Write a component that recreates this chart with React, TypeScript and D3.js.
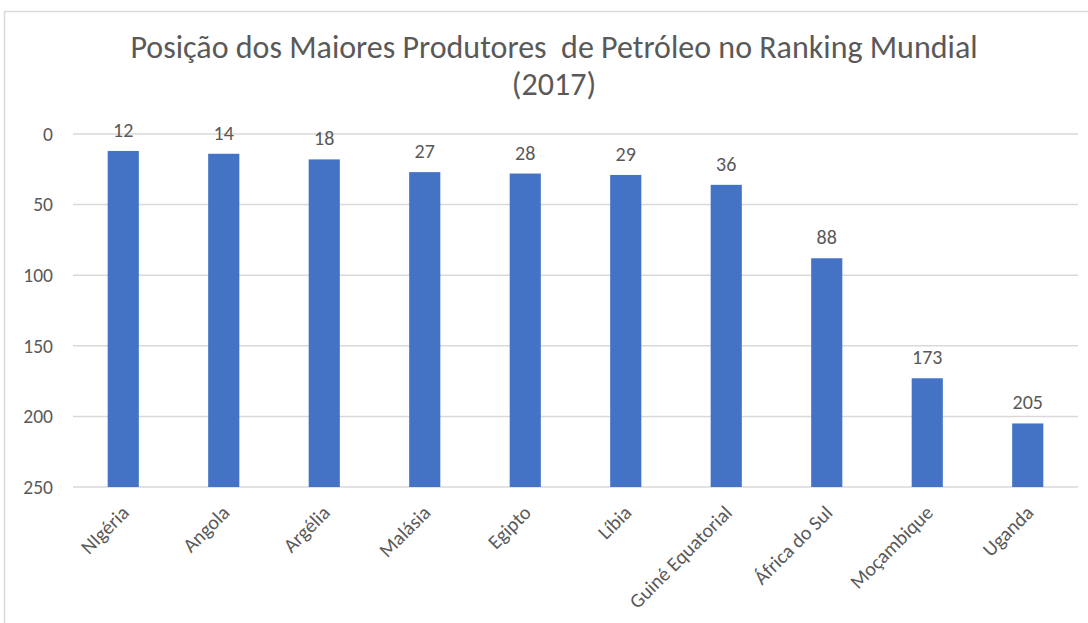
import { useEffect, useRef } from 'react';
import * as d3 from 'd3';

const countries = ['NIgéria', 'Angola', 'Argélia', 'Malásia', 'Egipto', 'Líbia', 'Guiné Equatorial', 'África do Sul', 'Moçambique', 'Uganda'];
const ranking = [12, 14, 18, 27, 28, 29, 36, 88, 173, 205];
const yTicks = [0, 50, 100, 150, 200, 250];
const titleLines = ['Posição dos Maiores Produtores  de Petróleo no Ranking Mundial', '(2017)'];

export default function App() {
    const svgRef = useRef<SVGSVGElement>(null);

    useEffect(() => {
        const width = 1088;
        const height = 623;
        const margin = { top: 134, right: 10, bottom: 136, left: 73 };
        const innerWidth = 1078 - margin.left;
        const innerHeight = 487 - margin.top;
        const font = 'Calibri, Carlito, "Open Sans", sans-serif';
        const textColor = '#595959';

        const svg = d3.select(svgRef.current);
        svg.selectAll('*').remove();
        svg.attr('width', width).attr('height', height);

        // chart frame
        svg.append('rect')
            .attr('x', 4.5)
            .attr('y', 11.5)
            .attr('width', width + 10)
            .attr('height', height)
            .attr('fill', '#fff')
            .attr('stroke', '#d9d9d9')
            .attr('stroke-width', 1.5);

        // title
        svg.append('text')
            .attr('text-anchor', 'middle')
            .style('font-family', font)
            .style('font-size', '32px')
            .style('fill', textColor)
            .selectAll('tspan')
            .data(titleLines)
            .enter()
            .append('tspan')
            .attr('x', 554)
            .attr('y', (d, i) => 58 + i * 37)
            .style('white-space', 'pre')
            .text((d) => d);

        const g = svg.append('g').attr('transform', `translate(${margin.left},${margin.top})`);

        const x = d3.scaleBand().domain(countries).range([0, innerWidth]).paddingInner(0.69).paddingOuter(0.345);
        const y = d3.scaleLinear().domain([0, 250]).range([0, innerHeight]);

        // gridlines
        g.selectAll('.grid')
            .data(yTicks)
            .enter()
            .append('line')
            .attr('x1', 0)
            .attr('x2', innerWidth)
            .attr('y1', (d) => y(d))
            .attr('y2', (d) => y(d))
            .attr('stroke', '#d9d9d9')
            .attr('stroke-width', 1.5);

        // y tick labels
        g.selectAll('.ytick')
            .data(yTicks)
            .enter()
            .append('text')
            .attr('x', -20)
            .attr('y', (d) => y(d))
            .attr('dy', '0.35em')
            .attr('text-anchor', 'end')
            .style('font-family', font)
            .style('font-size', '19.5px')
            .style('fill', textColor)
            .text((d) => d);

        const data = countries.map((c, i) => ({ c, v: ranking[i] }));

        // bars hang from the value down to the 250 baseline
        g.selectAll('.bar')
            .data(data)
            .enter()
            .append('rect')
            .attr('x', (d) => x(d.c)!)
            .attr('width', x.bandwidth())
            .attr('y', (d) => y(d.v))
            .attr('height', (d) => y(250) - y(d.v))
            .attr('fill', '#4472c4');

        // value labels
        g.selectAll('.label')
            .data(data)
            .enter()
            .append('text')
            .attr('x', (d) => x(d.c)! + x.bandwidth() / 2)
            .attr('y', (d) => y(d.v) - 14)
            .attr('text-anchor', 'middle')
            .style('font-family', font)
            .style('font-size', '20px')
            .style('fill', textColor)
            .text((d) => d.v);

        // category labels
        g.selectAll('.xlabel')
            .data(countries)
            .enter()
            .append('text')
            .attr('transform', (d) => `translate(${x(d)! + x.bandwidth() / 2 + 2},${innerHeight + 22}) rotate(-45)`)
            .attr('text-anchor', 'end')
            .attr('dy', '0.35em')
            .style('font-family', font)
            .style('font-size', '20px')
            .style('fill', textColor)
            .text((d) => d);
    }, []);

    return <svg ref={svgRef} style={{ display: 'block', position: 'absolute', left: 0, top: 0 }}></svg>;
}
